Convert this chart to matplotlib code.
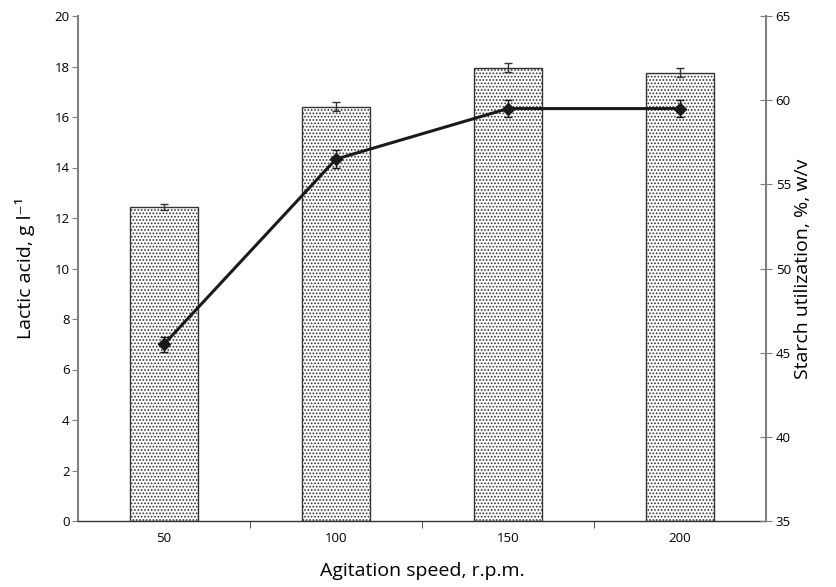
import matplotlib
matplotlib.use("Agg")
import matplotlib.pyplot as plt
import numpy as np

speeds = ["50", "100", "150", "200"]
lactic = [12.45, 16.4, 17.95, 17.75]
lactic_err = [0.12, 0.18, 0.18, 0.18]
starch = [45.5, 56.5, 59.5, 59.5]
starch_err = [0.45, 0.55, 0.5, 0.5]

plt.rcParams['font.family'] = ['Open Sans', 'DejaVu Sans']
plt.rcParams['hatch.color'] = '#909090'
plt.rcParams['hatch.linewidth'] = 0.8

fig = plt.figure(figsize=(8.36, 5.87), dpi=100)
ax = fig.add_axes([78/836, 1-521/587, 688/836, 505/587])
x = np.arange(len(speeds))
ax.bar(x, lactic, width=0.4, color='white', edgecolor='#333333', linewidth=1.0,
       hatch='.....', zorder=2)
ax.errorbar(x, lactic, yerr=lactic_err, fmt='none', ecolor='#333333',
            elinewidth=1.0, capsize=3, capthick=1.0, zorder=3)
ax.set_xlim(-0.5, 3.5)
ax.set_ylim(0, 20)
ax.set_yticks(np.arange(0, 21, 2))
ax.set_xticks(x)
ax.set_xticklabels(speeds, fontsize=9.5)
ax.set_xticks([0.5, 1.5, 2.5], minor=True)
ax.tick_params(axis='x', which='major', length=0, pad=8)
ax.tick_params(axis='x', which='minor', length=5, direction='out', color='#333333')
ax.tick_params(axis='y', labelsize=9.5, length=4, color='#808080', pad=2)
for s in ['top', 'right']:
    ax.spines[s].set_visible(False)
ax.spines['left'].set_color('#808080')
ax.spines['left'].set_linewidth(1.5)
ax.spines['bottom'].set_color('#333333')
ax.spines['bottom'].set_linewidth(1.0)
ax.set_ylabel('Lactic acid, g l\u207b\u00b9', fontsize=14, labelpad=14)
ax.set_xlabel('Agitation speed, r.p.m.', fontsize=14, labelpad=12)

ax2 = ax.twinx()
ax2.plot(x, starch, color='#1a1a1a', linewidth=2.2, marker='D', markersize=6, zorder=4)
ax2.errorbar(x, starch, yerr=starch_err, fmt='none', ecolor='#1a1a1a',
             elinewidth=1.0, capsize=3, capthick=1.0, zorder=3)
ax2.set_ylim(35, 65)
ax2.set_yticks(np.arange(35, 66, 5))
ax2.tick_params(axis='y', labelsize=9.5, length=8, direction='inout', color='#808080', pad=3)
for s in ['top', 'left', 'bottom']:
    ax2.spines[s].set_visible(False)
ax2.spines['right'].set_color('#808080')
ax2.spines['right'].set_linewidth(1.5)
ax2.set_ylabel('Starch utilization, %, w/v', fontsize=14, labelpad=2)

fig.savefig('out.png', dpi=100)
